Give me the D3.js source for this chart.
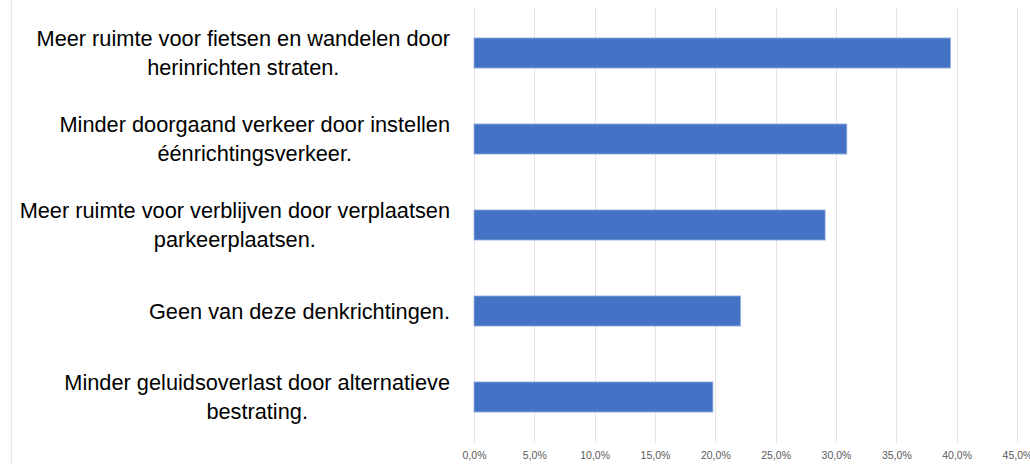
<!DOCTYPE html>
<html>
<head>
<meta charset="utf-8">
<script src="https://cdn.jsdelivr.net/npm/d3@7"></script>
<style>
  body { margin: 0; background: #fff; }
  svg { display: block; }
</style>
</head>
<body>
<script>
// Data

let categories = [
  ['Meer ruimte voor fietsen en wandelen door', 'herinrichten straten.'],
  ['Minder doorgaand verkeer door instellen', 'éénrichtingsverkeer.'],
  ['Meer ruimte voor verblijven door verplaatsen', 'parkeerplaatsen.'],
  ['Geen van deze denkrichtingen.'],
  ['Minder geluidsoverlast door alternatieve', 'bestrating.']
]
let values = [39.5, 30.9, 29.1, 22.1, 19.8]
let tickValues = [0, 5, 10, 15, 20, 25, 30, 35, 40, 45]

let width = 1030
let height = 464

let margin = { left: 474, top: 10, right: 13, bottom: 24 }
let chartWidth = width - margin.left - margin.right
let chartHeight = height - margin.top - margin.bottom

let svg = d3.select('body')
  .append('svg')
  .attr('width', width)
  .attr('height', height)

// faint frame on the left
svg.append('line')
  .attr('x1', 11.5).attr('x2', 11.5)
  .attr('y1', 0).attr('y2', height)
  .attr('stroke', '#e6e6e6')

let chartGroup = svg.append('g')
  .attr('transform', `translate(${margin.left}, ${margin.top})`)

let xScale = d3.scaleLinear()
  .domain([0, 45])
  .range([0, chartWidth])

let yScale = d3.scaleBand()
  .domain(d3.range(categories.length))
  .range([0, chartHeight])
  .paddingInner(0.65)
  .paddingOuter(0.325)

// gridlines
chartGroup.selectAll('.grid')
  .data(tickValues)
  .join('line')
  .attr('class', 'grid')
  .attr('x1', d => Math.round(xScale(d)) + 0.5)
  .attr('x2', d => Math.round(xScale(d)) + 0.5)
  .attr('y1', -2)
  .attr('y2', chartHeight + 3)
  .attr('stroke', '#e3e3e3')
  .attr('stroke-width', 1)

// x axis labels
let xAxis = d3.axisBottom(xScale)
  .tickValues(tickValues)
  .tickSize(0)
  .tickPadding(12)
  .tickFormat(d => d.toFixed(1).replace('.', ',') + '%')

let xAxisGroup = chartGroup.append('g')
  .attr('transform', `translate(0, ${chartHeight})`)
  .call(xAxis)

xAxisGroup.select('.domain').remove()
xAxisGroup.selectAll('text')
  .attr('fill', '#595959')
  .attr('font-family', 'Liberation Sans, sans-serif')
  .attr('font-size', 10.5)

// bars
chartGroup.selectAll('.bar')
  .data(values)
  .join('rect')
  .attr('class', 'bar')
  .attr('x', 0)
  .attr('y', (d, i) => yScale(i))
  .attr('width', d => xScale(d))
  .attr('height', yScale.bandwidth())
  .attr('fill', '#4472c4')
  .attr('stroke', '#9fb6e2')
  .attr('stroke-width', 0.8)

// category labels: lines centred on each other, block right-aligned
let labelGroup = svg.append('g')
  .attr('font-family', 'Liberation Sans, sans-serif')
  .attr('font-size', 21.75)
  .attr('fill', '#000')

let lineHeight = 29

categories.forEach((lines, i) => {
  let cy = margin.top + yScale(i) + yScale.bandwidth() / 2
  let g = labelGroup.append('g')
  let texts = lines.map((t, j) => g.append('text')
    .attr('y', cy + (j - (lines.length - 1) / 2) * lineHeight)
    .attr('dy', '0.35em')
    .text(t))
  let widths = texts.map(t => t.node().getComputedTextLength())
  let maxW = d3.max(widths)
  let right = 450
  let centre = right - maxW / 2
  texts.forEach(t => t.attr('x', centre).attr('text-anchor', 'middle'))
})
</script>
</body>
</html>
